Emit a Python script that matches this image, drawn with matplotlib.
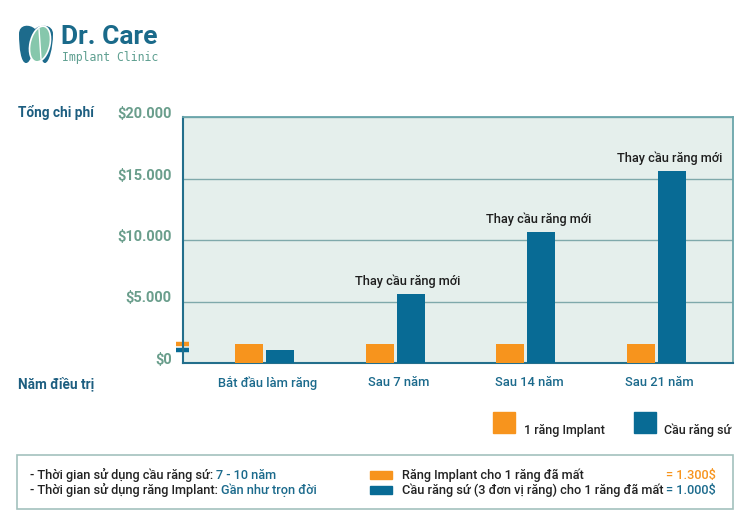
import matplotlib
matplotlib.use("Agg")
import matplotlib.pyplot as plt
import matplotlib.transforms as mtransforms
from matplotlib.patches import Rectangle, Ellipse, PathPatch
from matplotlib.path import Path
from matplotlib.text import Annotation
import numpy as np

plt.rcParams['font.family'] = ['Roboto', 'DejaVu Sans']
plt.rcParams['font.weight'] = 'medium'

# ---------------- data ----------------
categories = ["Bắt đầu làm răng", "Sau 7 năm", "Sau 14 năm", "Sau 21 năm"]
implant = [1550, 1550, 1550, 1550]
bridge = [1050, 5600, 10650, 15600]
bar_notes = ["", "Thay cầu răng mới", "Thay cầu răng mới", "Thay cầu răng mới"]
ytick_values = [0, 5000, 10000, 15000, 20000]
ytick_labels = ["$0", "$5.000", "$10.000", "$15.000", "$20.000"]
legend_labels = ["1 răng Implant", "Cầu răng sứ"]
note_lines = [("- Thời gian sử dụng cầu răng sứ: ", "7 - 10 năm"),
              ("- Thời gian sử dụng răng Implant: ", "Gần như trọn đời")]
price_labels = ["Răng Implant cho 1 răng đã mất", "Cầu răng sứ (3 đơn vị răng) cho 1 răng đã mất"]
price_values = ["= 1.300$", "= 1.000$"]

ORANGE = "#f7941d"
BLUE = "#086b95"
TEAL_TXT = "#1b6a8c"
DARK_TITLE = "#1d5e80"
GREEN_TXT = "#6a9e8c"

W, H = 750, 532
fig = plt.figure(figsize=(W / 100, H / 100), dpi=100)
fig.patch.set_facecolor("white")

def fx(x):
    return x / W

def fy(y):
    return 1 - y / H

ax = fig.add_axes([fx(183), fy(363), fx(733) - fx(183), fy(117) - fy(363)])
ax.set_facecolor("#e5efec")

x = np.arange(len(categories))
bw = 0.214
gap = 0.012
ax.bar(x - bw / 2 - gap, implant, width=bw, color=ORANGE, zorder=3)
ax.bar(x + bw / 2 + gap, bridge, width=bw, color=BLUE, zorder=3)

ax.set_xlim(-0.624, 3.585)
ax.set_ylim(0, 20000)
ax.set_yticks(ytick_values)
ax.set_yticklabels(ytick_labels)
ax.yaxis.grid(True, color="#7fa9ab", lw=1, zorder=1)
ax.set_axisbelow(True)
ax.tick_params(axis="y", length=0, pad=8, labelsize=10.5, labelcolor=GREEN_TXT)
for lab in ax.get_yticklabels():
    lab.set_fontweight("bold")
    lab.set_transform(lab.get_transform() + mtransforms.ScaledTranslation(0, 0.045, fig.dpi_scale_trans))

ax.set_xticks(x)
ax.set_xticklabels(categories)
ax.tick_params(axis="x", length=0, pad=9, labelsize=9.3, labelcolor=TEAL_TXT)
for lab in ax.get_xticklabels():
    lab.set_transform(lab.get_transform() + mtransforms.ScaledTranslation(0.03, 0, fig.dpi_scale_trans))

for side in ["left", "bottom"]:
    ax.spines[side].set_color("#236f8c")
    ax.spines[side].set_linewidth(1.5)
for side in ["top", "right"]:
    ax.spines[side].set_color("#6aa5aa")
    ax.spines[side].set_linewidth(1.3)

for xi, val, note in zip(x, bridge, bar_notes):
    if note:
        ax.annotate(note, xy=(xi + bw / 2 + gap, val), xytext=(-2, 9),
                    textcoords="offset points", ha="center", va="center",
                    fontsize=9.2, color="#1e1e1e")

# small value dashes at left of the y axis
blend = mtransforms.blended_transform_factory(ax.transAxes, ax.transData)
dash_x = [-(183 - 176) / 550, (189 - 183) / 550]
ax.plot(dash_x, [implant[0]] * 2, color=ORANGE, lw=3.2, transform=blend, clip_on=False, solid_capstyle="butt")
ax.plot(dash_x, [bridge[0]] * 2, color=BLUE, lw=3.2, transform=blend, clip_on=False, solid_capstyle="butt")

# axis titles
fig.text(fx(18), fy(117), "Tổng chi phí", color=DARK_TITLE, fontsize=9.8, fontweight="bold", va="baseline")
fig.text(fx(18), fy(388), "Năm điều trị", color=DARK_TITLE, fontsize=9.8, fontweight="bold", va="baseline")

# legend
for (sx, tx), lab, col in zip([(493, 524), (634, 664)], legend_labels, [ORANGE, BLUE]):
    fig.add_artist(Rectangle((fx(sx), fy(433)), fx(22), 21 / H, color=col, transform=fig.transFigure))
    fig.text(fx(tx), fy(434), lab, fontsize=9, color="#222222", va="baseline")

# bottom note box
fig.add_artist(Rectangle((fx(17), fy(509)), fx(733 - 17), (509 - 455) / H, transform=fig.transFigure,
                         facecolor="white", edgecolor="#a3c1bd", lw=1.2))
FS = 9.2
for (a, b), yy in zip(note_lines, [479, 494]):
    t1 = fig.text(fx(30), fy(yy), a, fontsize=FS, color="#222222", va="baseline")
    ann = Annotation(b, xy=(1, 0), xycoords=t1, va="bottom", ha="left", fontsize=FS,
                     color=TEAL_TXT, annotation_clip=False)
    fig.add_artist(ann)

for lab, val, col, yy in zip(price_labels, price_values, [ORANGE, BLUE], [479, 494]):
    fig.add_artist(Rectangle((fx(370), fy(yy)), fx(22), 8 / H, color=col, transform=fig.transFigure))
    fig.text(fx(402), fy(yy), lab, fontsize=FS, color="#222222", va="baseline")
    fig.text(fx(716), fy(yy), val, fontsize=FS, color=(ORANGE if col == ORANGE else TEAL_TXT),
             va="baseline", ha="right")

# logo
fig.text(fx(61), fy(37), "Dr. Care", fontsize=19, fontweight="bold", color="#1a6a8a", va="center")
fig.text(fx(62), fy(57), "Implant Clinic", fontsize=8.3, family="DejaVu Sans Mono", color="#5e9f90",
         va="center", fontweight="normal")

def P(px, py):
    return (fx(px), fy(py))

tooth = Path([P(19, 34), P(19, 24), P(30, 24), P(35, 29),
              P(40, 24), P(53, 24), P(53, 34),
              P(53, 48), P(49, 63), P(45, 63),
              P(41, 63), P(41, 52), P(36, 52),
              P(31, 52), P(31, 63), P(26, 63),
              P(21, 63), P(19, 48), P(19, 34)],
             [Path.MOVETO, Path.CURVE4, Path.CURVE4, Path.CURVE4,
              Path.CURVE4, Path.CURVE4, Path.CURVE4,
              Path.CURVE4, Path.CURVE4, Path.CURVE4,
              Path.CURVE4, Path.CURVE4, Path.CURVE4,
              Path.CURVE4, Path.CURVE4, Path.CURVE4,
              Path.CURVE4, Path.CURVE4, Path.CURVE4])
fig.add_artist(PathPatch(tooth, transform=fig.transFigure, facecolor="#1d6b8c", edgecolor="none"))
fig.add_artist(Ellipse(P(40, 44), 20 / W, 36 / H, angle=-8, transform=fig.transFigure,
                       facecolor="#86c7ac", edgecolor="white", lw=1.2))
fig.add_artist(plt.Line2D([fx(39), fx(41)], [fy(29), fy(59)], transform=fig.transFigure, color="white", lw=1))

fig.savefig("out.png", dpi=100)
